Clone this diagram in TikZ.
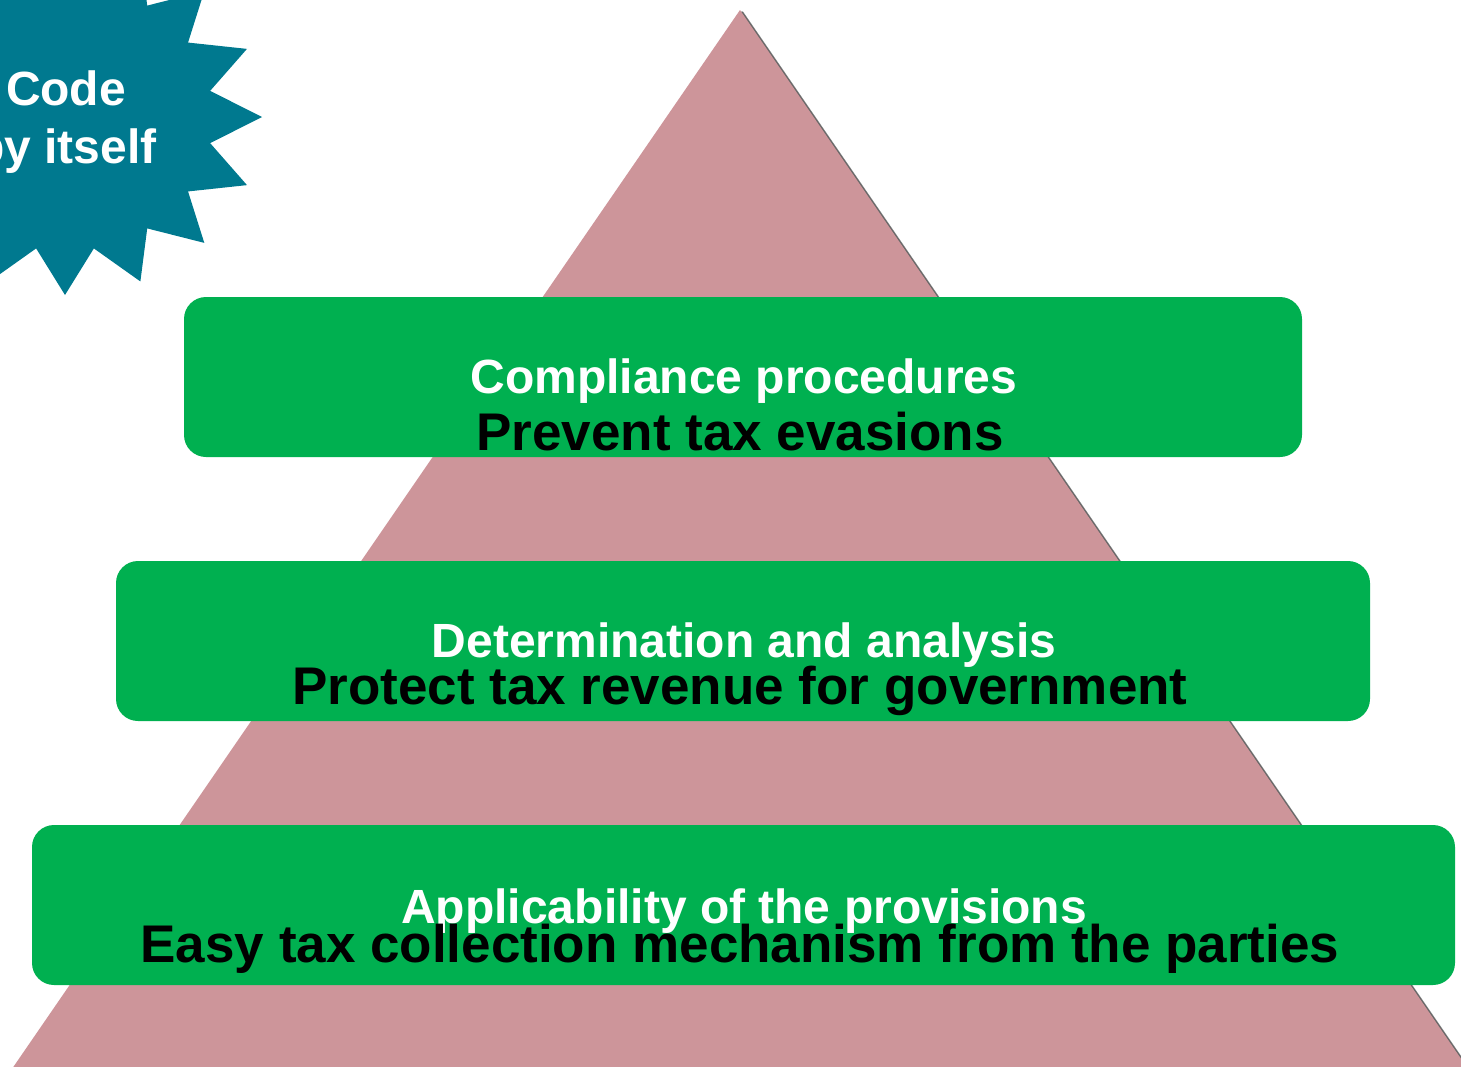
\documentclass[tikz,border=0pt]{standalone}
\usepackage{fontspec}
\setmainfont{Liberation Sans}
\definecolor{pyr}{RGB}{205,149,154}
\definecolor{boxg}{RGB}{0,176,80}
\definecolor{starc}{RGB}{0,121,143}
\begin{document}
\begin{tikzpicture}[x=1pt,y=-1pt,
  level/.style={fill=boxg, rounded corners=22pt},
  wtext/.style={anchor=base, inner sep=0pt, text=white, font=\fontsize{48}{56}\selectfont\bfseries},
  btext/.style={anchor=base, inner sep=0pt, text=black, font=\fontsize{53}{60}\selectfont\bfseries},
  startext/.style={anchor=base, inner sep=0pt, text=white, font=\fontsize{48}{56}\selectfont\bfseries}]
\useasboundingbox (0,0) rectangle (1461,1066);
\clip (0,0) rectangle (1461,1066);
% pyramid with shadow
\fill[black!45] (743,11.5) -- (1476.6,1078.5) -- (9.4,1078.5) -- cycle;
\fill[black!60] (742,11) -- (1475.6,1078) -- (8.4,1078) -- cycle;
\fill[pyr] (740,10) -- (1473.6,1077) -- (6.4,1077) -- cycle;
% levels
\fill[level] (184,297) rectangle (1302,457);
\fill[level] (116,561) rectangle (1370,721);
\fill[level] (32,825) rectangle (1455,985);
\node[wtext] (t1) at (744,393) {Compliance procedures};
\node[btext] (b1) at (740,450) {Prevent tax evasions};
\node[wtext] (t2) at (744,657) {Determination and analysis};
\node[btext] (b2) at (740,704) {Protect tax revenue for government};
\node[wtext] (t3) at (744,923) {Applicability of the provisions};
\node[btext] (b3) at (740,962) {Easy tax collection mechanism from the parties};
% starburst
\fill[starc] plot[samples at={0,...,31}, variable=\i]
  ({65+ifthenelse(mod(\i,2)==0,197,148)*cos(\i*11.25)},
   {117+ifthenelse(mod(\i,2)==0,178,134)*sin(\i*11.25)}) -- cycle;
\node[startext] (s1) at (66,105) {Code};
\node[startext] (s2) at (66,163) {by itself};
\end{tikzpicture}
\end{document}
